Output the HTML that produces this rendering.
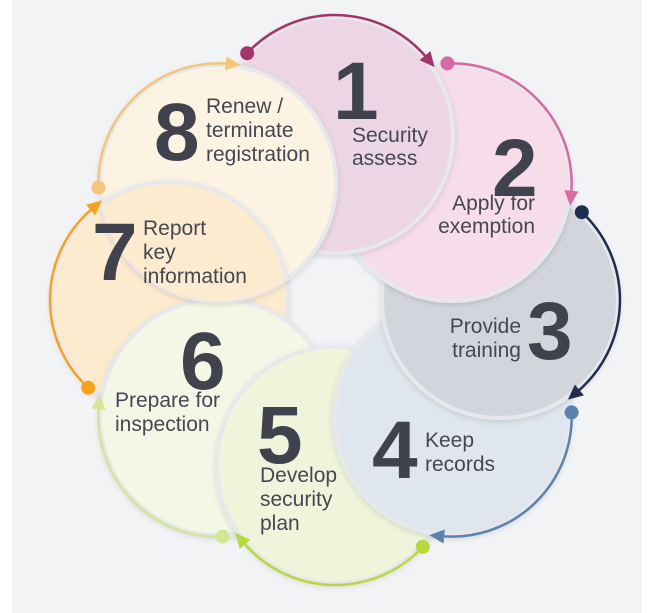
<!DOCTYPE html>
<html><head><meta charset="utf-8"><style>
html,body{margin:0;padding:0;background:#fff;}
svg{display:block;}
text{font-family:"Liberation Sans",sans-serif;fill:#454852;}
.n{font-weight:bold;font-size:82px;fill:#40434d;}
.t{font-size:21px;}
</style></head><body>
<svg width="655" height="613" viewBox="0 0 655 613" xmlns="http://www.w3.org/2000/svg">
<defs>
<clipPath id="c8"><circle cx="218" cy="183" r="118"/></clipPath>
<filter id="sh" x="-20%" y="-20%" width="140%" height="140%"><feDropShadow dx="0" dy="2" stdDeviation="3" flood-color="#000" flood-opacity="0.12"/></filter>
</defs>
<rect x="12" y="0" width="630" height="613" fill="#f2f3f5"/>
<g stroke="#e6e8ec" stroke-width="4">
<circle cx="170" cy="300" r="118" fill="#fdebd0" filter="url(#sh)"/>
<circle cx="218" cy="417" r="118" fill="#f4f7e6" filter="url(#sh)"/>
<circle cx="335" cy="465" r="118" fill="#eff4da" filter="url(#sh)"/>
<circle cx="452" cy="417" r="118" fill="#dfe6ee" filter="url(#sh)"/>
<circle cx="500" cy="300" r="118" fill="#d2d6dc" filter="url(#sh)"/>
<circle cx="452" cy="183" r="118" fill="#f6dde9" filter="url(#sh)"/>
<circle cx="335" cy="135" r="118" fill="#ecd6e3" filter="url(#sh)"/>
<circle cx="218" cy="183" r="118" fill="#fcf3e2" filter="url(#sh)"/>
<g clip-path="url(#c8)"><circle cx="170" cy="300" r="118" fill="#fdebd0" filter="url(#sh)"/></g>
</g>
<g id="arcs">
<g transform="rotate(0 335 300)" stroke="#a3336b" fill="#a3336b"><path d="M247.2,53.2 A120,120 0 0 1 426.9,57.9" fill="none" stroke-width="2.5"/><polygon points="434.6,67.1 430.4,51.1 419.6,60.1" stroke="none"/><circle cx="247.2" cy="53.2" r="7" stroke="none"/></g>
<g transform="rotate(45 335 300)" stroke="#d868a6" fill="#d868a6"><path d="M247.2,53.2 A120,120 0 0 1 426.9,57.9" fill="none" stroke-width="2.5"/><polygon points="434.6,67.1 430.4,51.1 419.6,60.1" stroke="none"/><circle cx="247.2" cy="53.2" r="7" stroke="none"/></g>
<g transform="rotate(90 335 300)" stroke="#1f2e4f" fill="#1f2e4f"><path d="M247.2,53.2 A120,120 0 0 1 426.9,57.9" fill="none" stroke-width="2.5"/><polygon points="434.6,67.1 430.4,51.1 419.6,60.1" stroke="none"/><circle cx="247.2" cy="53.2" r="7" stroke="none"/></g>
<g transform="rotate(135 335 300)" stroke="#5b82ad" fill="#5b82ad"><path d="M247.2,53.2 A120,120 0 0 1 426.9,57.9" fill="none" stroke-width="2.5"/><polygon points="434.6,67.1 430.4,51.1 419.6,60.1" stroke="none"/><circle cx="247.2" cy="53.2" r="7" stroke="none"/></g>
<g transform="rotate(180 335 300)" stroke="#b8d83c" fill="#b8d83c"><path d="M247.2,53.2 A120,120 0 0 1 426.9,57.9" fill="none" stroke-width="2.5"/><polygon points="434.6,67.1 430.4,51.1 419.6,60.1" stroke="none"/><circle cx="247.2" cy="53.2" r="7" stroke="none"/></g>
<g transform="rotate(225 335 300)" stroke="#d3e693" fill="#d3e693"><path d="M247.2,53.2 A120,120 0 0 1 426.9,57.9" fill="none" stroke-width="2.5"/><polygon points="434.6,67.1 430.4,51.1 419.6,60.1" stroke="none"/><circle cx="247.2" cy="53.2" r="7" stroke="none"/></g>
<g transform="rotate(270 335 300)" stroke="#f7a21b" fill="#f7a21b"><path d="M247.2,53.2 A120,120 0 0 1 426.9,57.9" fill="none" stroke-width="2.5"/><polygon points="434.6,67.1 430.4,51.1 419.6,60.1" stroke="none"/><circle cx="247.2" cy="53.2" r="7" stroke="none"/></g>
<g transform="rotate(315 335 300)" stroke="#f4c57a" fill="#f4c57a"><path d="M247.2,53.2 A120,120 0 0 1 426.9,57.9" fill="none" stroke-width="2.5"/><polygon points="434.6,67.1 430.4,51.1 419.6,60.1" stroke="none"/><circle cx="247.2" cy="53.2" r="7" stroke="none"/></g>
</g>
<text class="n" x="333" y="119">1</text>
<text class="t" x="352" y="142">Security</text><text class="t" x="352" y="165">assess</text>
<text class="n" x="492" y="196">2</text>
<text class="t" x="535" y="210" text-anchor="end">Apply for</text><text class="t" x="535" y="233" text-anchor="end">exemption</text>
<text class="n" x="527" y="359">3</text>
<text class="t" x="521" y="333" text-anchor="end">Provide</text><text class="t" x="521" y="357" text-anchor="end">training</text>
<text class="n" x="372" y="478">4</text>
<text class="t" x="425" y="447">Keep</text><text class="t" x="425" y="471">records</text>
<text class="n" x="257" y="463">5</text>
<text class="t" x="260" y="482">Develop</text><text class="t" x="260" y="506">security</text><text class="t" x="260" y="530">plan</text>
<text class="n" x="180" y="389">6</text>
<text class="t" x="115" y="407">Prepare for</text><text class="t" x="115" y="431">inspection</text>
<text class="n" x="92" y="280">7</text>
<text class="t" x="143" y="235">Report</text><text class="t" x="143" y="259">key</text><text class="t" x="143" y="283">information</text>
<text class="n" x="154" y="160">8</text>
<text class="t" x="206" y="113">Renew /</text><text class="t" x="206" y="137">terminate</text><text class="t" x="206" y="161">registration</text>
</svg>
</body></html>
